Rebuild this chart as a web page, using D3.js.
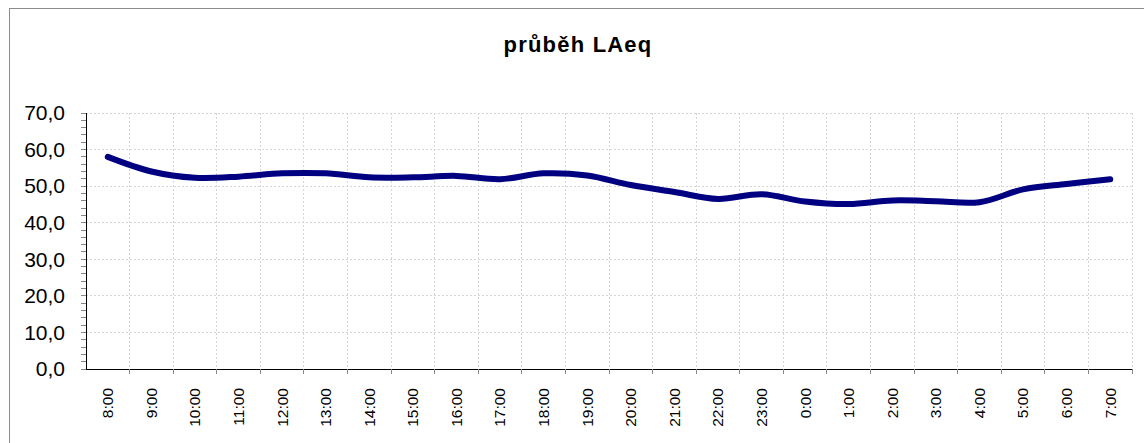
<!DOCTYPE html>
<html>
<head>
<meta charset="utf-8">
<script src="https://cdn.jsdelivr.net/npm/d3@7"></script>
<style>
  body { margin: 0; background: #fff; }
  svg { display: block; font-family: "Liberation Sans", Arial, sans-serif; }
</style>
</head>
<body>
<div id="chart"></div>
<script>
const hours = ["8:00", "9:00", "10:00", "11:00", "12:00", "13:00", "14:00", "15:00", "16:00", "17:00", "18:00", "19:00",
  "20:00", "21:00", "22:00", "23:00", "0:00", "1:00", "2:00", "3:00", "4:00", "5:00", "6:00", "7:00"];
const laeq = [58.0, 54.0, 52.3, 52.6, 53.5, 53.5, 52.4, 52.4, 52.8, 51.9, 53.5, 52.9,
  50.3, 48.4, 46.5, 47.8, 45.8, 45.1, 46.1, 45.9, 45.6, 49.1, 50.6, 51.9];
const yTicks = [0, 10, 20, 30, 40, 50, 60, 70];
const title = "průběh LAeq";

const WIDTH = 1144,
  HEIGHT = 443,
  margin = { left: 86, right: 12, top: 113, bottom: 74 },
  comma = d3.formatLocale({ decimal: ",", thousands: " ", grouping: [3], currency: ["", ""] }).format(".1f");

const svg = d3.select("#chart").append("svg")
  .attr("width", WIDTH)
  .attr("height", HEIGHT);

// outer chart border
svg.append("rect")
  .attr("x", 9.5).attr("y", 8.5)
  .attr("width", 1144).attr("height", 440)
  .attr("fill", "none")
  .attr("stroke", "#8c8c8c");

svg.append("text")
  .attr("x", 578).attr("y", 52)
  .attr("text-anchor", "middle")
  .attr("font-size", 22)
  .attr("letter-spacing", 1.2)
  .attr("font-weight", "bold")
  .text(title);

const x = d3.scaleBand()
  .domain(hours)
  .range([margin.left, WIDTH - margin.right]);

const y = d3.scaleLinear()
  .domain([0, 70])
  .range([HEIGHT - margin.bottom, margin.top]);

const grid = svg.append("g")
  .attr("stroke", "#d6d6d6")
  .attr("stroke-dasharray", "2,2")
  .attr("shape-rendering", "crispEdges");

// horizontal gridlines
grid.selectAll("line.h")
  .data(yTicks.slice(1))
  .enter()
  .append("line")
  .attr("x1", margin.left).attr("x2", WIDTH - margin.right)
  .attr("y1", d => y(d)).attr("y2", d => y(d));

// vertical gridlines at category boundaries
grid.selectAll("line.v")
  .data(hours)
  .enter()
  .append("line")
  .attr("x1", d => x(d) + x.bandwidth()).attr("x2", d => x(d) + x.bandwidth())
  .attr("y1", y(70)).attr("y2", y(0));

// y axis
const yAxis = svg.append("g")
  .attr("transform", `translate(${margin.left},0)`)
  .attr("shape-rendering", "crispEdges");

yAxis.append("line")
  .attr("x1", 0).attr("x2", 0)
  .attr("y1", y(70)).attr("y2", y(0))
  .attr("stroke", "#000");

yAxis.selectAll("line.minor")
  .data(d3.range(0, 71, 2))
  .enter()
  .append("line")
  .attr("x1", -5).attr("x2", 0)
  .attr("y1", d => y(d)).attr("y2", d => y(d))
  .attr("stroke", "#888");

yAxis.selectAll("text")
  .data(yTicks)
  .enter()
  .append("text")
  .attr("x", -21)
  .attr("y", d => y(d))
  .attr("dy", "0.35em")
  .attr("text-anchor", "end")
  .attr("font-size", 21)
  .attr("fill", "#000")
  .text(d => comma(d));

// x axis
const xAxis = svg.append("g")
  .attr("transform", `translate(0,${y(0)})`);

xAxis.append("line")
  .attr("x1", margin.left).attr("x2", WIDTH - margin.right)
  .attr("y1", 0).attr("y2", 0)
  .attr("stroke", "#000")
  .attr("shape-rendering", "crispEdges");

xAxis.selectAll("line.tick")
  .data(hours)
  .enter()
  .append("line")
  .attr("x1", d => x(d) + x.bandwidth()).attr("x2", d => x(d) + x.bandwidth())
  .attr("y1", 0).attr("y2", 5)
  .attr("stroke", "#888")
  .attr("shape-rendering", "crispEdges");

xAxis.selectAll("text")
  .data(hours)
  .enter()
  .append("text")
  .attr("transform", d => `translate(${x(d) + x.bandwidth() / 2},19) rotate(-90)`)
  .attr("dy", "0.35em")
  .attr("text-anchor", "end")
  .attr("font-size", 15.5)
  .attr("fill", "#000")
  .text(d => d);

// LAeq line
const line = d3.line()
  .x((d, i) => x(hours[i]) + x.bandwidth() / 2)
  .y(d => y(d))
  .curve(d3.curveCatmullRom.alpha(0.5));

svg.append("path")
  .datum(laeq)
  .attr("d", line)
  .attr("fill", "none")
  .attr("stroke", "#000080")
  .attr("stroke-width", 6)
  .attr("stroke-linecap", "round")
  .attr("stroke-linejoin", "round");
</script>
</body>
</html>
